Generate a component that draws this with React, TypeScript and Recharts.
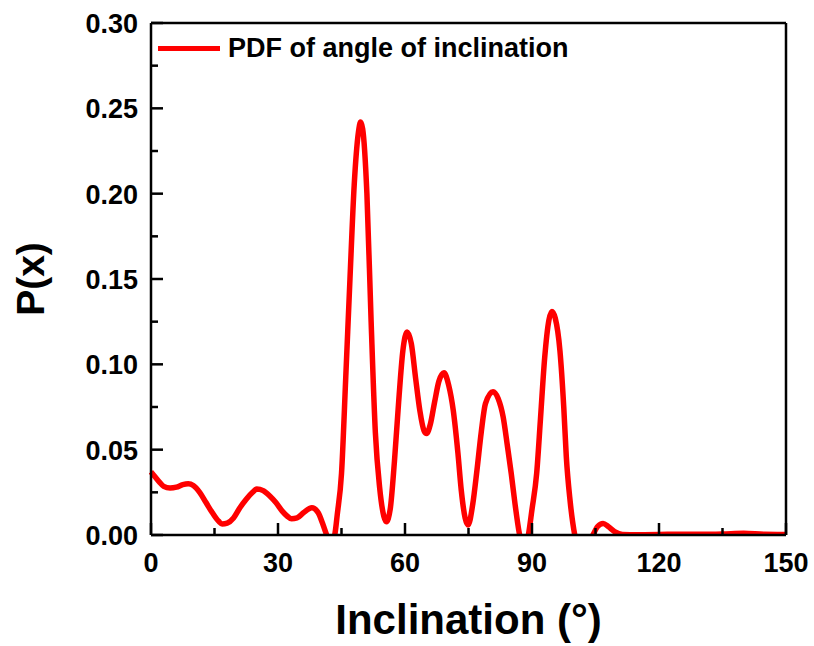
import { Line, LineChart, XAxis, YAxis } from "recharts";

const angles = [
  0, 1, 2, 3, 4.5, 6, 7.5, 8.8, 10, 11.5, 13, 14.5, 16, 16.8, 18, 19.5, 21, 22.5, 24, 25, 26.5, 28,
  29.5, 31, 32.2, 33.2, 34.5, 36, 38, 39.5, 40.5, 41.5, 42.5, 43.4, 44, 45, 46, 47, 48, 49, 49.5, 50,
  51, 52, 53, 54, 55, 55.6, 56.5, 57.5, 58.5, 59.5, 60.5, 61.5, 62.5, 63.5, 64.5, 65.1, 66, 67, 68,
  69.2, 70.3, 71.4, 72.5, 73.3, 74.2, 74.9, 76, 77, 78, 79, 80.8, 82, 83.2, 84.2, 85.1, 86, 87, 88,
  89, 90, 91.1, 92, 93, 94, 94.7, 95.5, 96.6, 97.5, 98.1, 99, 100.1, 101.5, 103, 104.4, 105.5, 106.8,
  108, 109.5, 111.4, 115, 120, 125, 130, 135, 140, 145, 150,
];

const pdf = [
  0.037, 0.034, 0.031, 0.0285, 0.0275, 0.028, 0.0295, 0.03, 0.029, 0.025, 0.019, 0.013, 0.008, 0.0065,
  0.007, 0.01, 0.016, 0.021, 0.025, 0.027, 0.026, 0.023, 0.019, 0.014, 0.011, 0.0095, 0.01, 0.013,
  0.016, 0.013, 0.007, 0.0, -0.005, 0.0, 0.012, 0.036, 0.092, 0.15, 0.205, 0.236, 0.242, 0.238, 0.2,
  0.125, 0.06, 0.028, 0.011, 0.0078, 0.015, 0.043, 0.078, 0.108, 0.119, 0.112, 0.092, 0.073, 0.061,
  0.0594, 0.065, 0.078, 0.09, 0.095, 0.088, 0.073, 0.048, 0.026, 0.01, 0.0058, 0.018, 0.038, 0.06,
  0.077, 0.084, 0.08, 0.069, 0.052, 0.036, 0.018, 0.001, -0.008, -0.002, 0.015, 0.036, 0.068, 0.104,
  0.126, 0.131, 0.127, 0.108, 0.075, 0.046, 0.02, 0.0, -0.01, -0.008, 0.0, 0.005, 0.0068, 0.005,
  0.002, 0.0003, 0.0002, 0.0003, 0.0005, 0.0004, 0.0006, 0.001, 0.0004, 0.0003,
];

const xTicks = [0, 15, 30, 45, 60, 75, 90, 105, 120, 135, 150];
const yTicks = [0, 0.025, 0.05, 0.075, 0.1, 0.125, 0.15, 0.175, 0.2, 0.225, 0.25, 0.275, 0.3];

const data = angles.map((x, i) => ({ x, p: pdf[i] }));

const FONT = "'Liberation Sans', Arial, sans-serif";

function XTick(props: any) {
  const { x, y, payload } = props;
  const major = payload.value % 30 === 0;
  return (
    <g>
      <line x1={x} x2={x} y1={y} y2={y - (major ? 12 : 7)} stroke="#000" strokeWidth={2.5} />
      {major && (
        <text x={x} y={y + 37} textAnchor="middle" fontSize={27} fontWeight="bold" fontFamily={FONT}>
          {payload.value}
        </text>
      )}
    </g>
  );
}

function YTick(props: any) {
  const { x, y, payload, index } = props;
  const major = index % 2 === 0;
  return (
    <g>
      <line x1={x} x2={x + (major ? 12 : 7)} y1={y} y2={y} stroke="#000" strokeWidth={2.5} />
      {major && (
        <text x={x - 13} y={y + 10} textAnchor="end" fontSize={27} fontWeight="bold" fontFamily={FONT}>
          {payload.value.toFixed(2)}
        </text>
      )}
    </g>
  );
}

export default function App() {
  return (
    <div style={{ position: "absolute", left: 0, top: 0, width: 814, height: 646, background: "#fff" }}>
      <LineChart width={814} height={646} data={data} margin={{ top: 22, right: 27, bottom: 110, left: 150 }}>
        <XAxis
          dataKey="x"
          type="number"
          domain={[0, 150]}
          ticks={xTicks}
          height={1}
          tickSize={0}
          tickMargin={0}
          tick={<XTick />}
          axisLine={{ stroke: "#000", strokeWidth: 2.5 }}
          tickLine={false}
          label={{
            value: "Inclination (°)",
            position: "bottom",
            offset: 68,
            style: { fontSize: 42, fontWeight: "bold", fontFamily: FONT, fill: "#000" },
          }}
        />
        <XAxis xAxisId="top" orientation="top" type="number" domain={[0, 150]} height={1} tick={false} tickLine={false}
          axisLine={{ stroke: "#000", strokeWidth: 2.5 }} />
        <YAxis
          type="number"
          domain={[0, 0.3]}
          ticks={yTicks}
          allowDataOverflow
          width={1}
          tickSize={0}
          tickMargin={0}
          tick={<YTick />}
          axisLine={{ stroke: "#000", strokeWidth: 2.5 }}
          tickLine={false}
          label={{
            value: "P(x)",
            angle: -90,
            position: "left",
            offset: 120,
            style: { fontSize: 39, fontWeight: "bold", fontFamily: FONT, fill: "#000", textAnchor: "middle" },
          }}
        />
        <YAxis yAxisId="right" orientation="right" type="number" domain={[0, 0.3]} width={1} tick={false} tickLine={false}
          axisLine={{ stroke: "#000", strokeWidth: 2.5 }} />
        <Line
          type="monotone"
          dataKey="p"
          stroke="#ff0000"
          strokeWidth={5.5}
          dot={false}
          isAnimationActive={false}
        />
      </LineChart>
      <div style={{ position: "absolute", left: 153, top: 33, display: "flex", alignItems: "center", fontFamily: FONT }}>
        <div style={{ width: 62, height: 5, background: "#ff0000", marginLeft: 5, marginRight: 8 }} />
        <span style={{ fontSize: 27, fontWeight: "bold", color: "#000" }}>PDF of angle of inclination</span>
      </div>
    </div>
  );
}
